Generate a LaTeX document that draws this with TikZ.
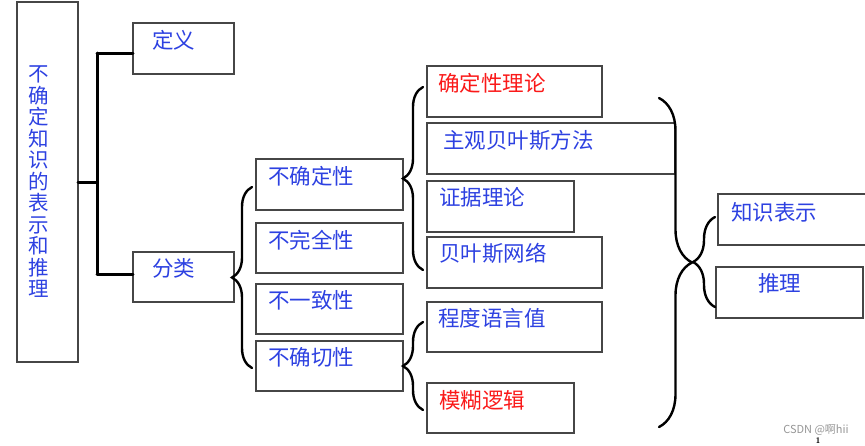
\documentclass[tikz,border=0pt]{standalone}
\usepackage{fontspec}
\newfontfamily\cjk{Noto Sans CJK SC}
\usetikzlibrary{decorations.pathreplacing,fit}
\definecolor{txtblue}{RGB}{45,65,225}
\definecolor{txtred}{RGB}{250,25,25}
\definecolor{boxgray}{RGB}{70,70,70}
\definecolor{wmgray}{RGB}{150,150,150}
\begin{document}
\begin{tikzpicture}[x=1pt,y=-1pt,
 box/.style={draw=boxgray,line width=1.2pt,inner sep=0pt,outer sep=0pt},
 txt/.style={font=\cjk\fontsize{21.5}{24}\selectfont,text=txtblue,inner sep=0pt,anchor=west},
 rtxt/.style={txt,text=txtred},
 link/.style={line width=3pt,line cap=round},
 brc/.style={line width=2.4pt,line cap=round,decorate,decoration={brace,amplitude=#1}},
]
\useasboundingbox (0,0) rectangle (865,445);

% boxes
\node[box,fit={(17,2) (78,362)}] (main) {};
\node[box,fit={(133,23) (234,74)}] (def) {};
\node[box,fit={(133,252) (234,302)}] (cls) {};
\node[box,fit={(256,159) (403,210)}] (u1) {};
\node[box,fit={(256,223) (403,273)}] (u2) {};
\node[box,fit={(256,284) (403,334)}] (u3) {};
\node[box,fit={(256,341) (403,391)}] (u4) {};
\node[box,fit={(427,66) (602,117)}] (t1) {};
\node[box,fit={(427,123) (675,174)}] (t2) {};
\node[box,fit={(427,181) (574,232)}] (t3) {};
\node[box,fit={(427,237) (602,288)}] (t4) {};
\node[box,fit={(427,302) (602,352)}] (t5) {};
\node[box,fit={(427,383) (574,433)}] (t6) {};
\node[box,fit={(718,194) (867,245)}] (k1) {};
\node[box,fit={(716,267) (863,318)}] (k2) {};

% texts
\node[txt,anchor=center,align=center,font=\cjk\fontsize{20.5}{21.5}\selectfont] (main-t) at (39,182)
  {不\\确\\定\\知\\识\\的\\表\\示\\和\\推\\理};
\node[txt] (def-t) at (152,40) {定义};
\node[txt] (cls-t) at (152,268) {分类};
\node[txt] (u1-t) at (268,176) {不确定性};
\node[txt] (u2-t) at (268,240) {不完全性};
\node[txt] (u3-t) at (268,300) {不一致性};
\node[txt] (u4-t) at (268,357) {不确切性};
\node[rtxt] (t1-t) at (438,83) {确定性理论};
\node[txt] (t2-t) at (443,140) {主观贝叶斯方法};
\node[txt] (t3-t) at (439,197) {证据理论};
\node[txt] (t4-t) at (439,253) {贝叶斯网络};
\node[txt] (t5-t) at (438,318) {程度语言值};
\node[rtxt] (t6-t) at (439,400) {模糊逻辑};
\node[txt] (k1-t) at (731,212) {知识表示};
\node[txt] (k2-t) at (758,283) {推理};

% connectors
\coordinate (j0) at (97,182);
\coordinate (j1) at (97,53);
\coordinate (j2) at (97,274);
\draw[link] (main.east) -- (j0);
\draw[link] (j1) -- (j2);
\draw[link] (j1) -- (def.west |- j1);
\draw[link] (j2) -- (cls.west |- j2);

% braces
\draw[brc=20pt] (252,368) -- (252,187);
\draw[brc=20pt] (423,270) -- (423,87);
\draw[brc=20pt] (423,410) -- (423,322);
\draw[brc=33pt] (659,98) -- (659,427);
\draw[brc=22pt] (715,307) -- (715,217);

% watermark
\node[font=\cjk\fontsize{11}{12}\selectfont,text=wmgray,inner sep=0pt] (wm) at (816,430) {CSDN @啊hii};
\node[font=\sffamily\bfseries\fontsize{8}{9}\selectfont,inner sep=0pt] (pg) at (818,441) {1};
\end{tikzpicture}
\end{document}
